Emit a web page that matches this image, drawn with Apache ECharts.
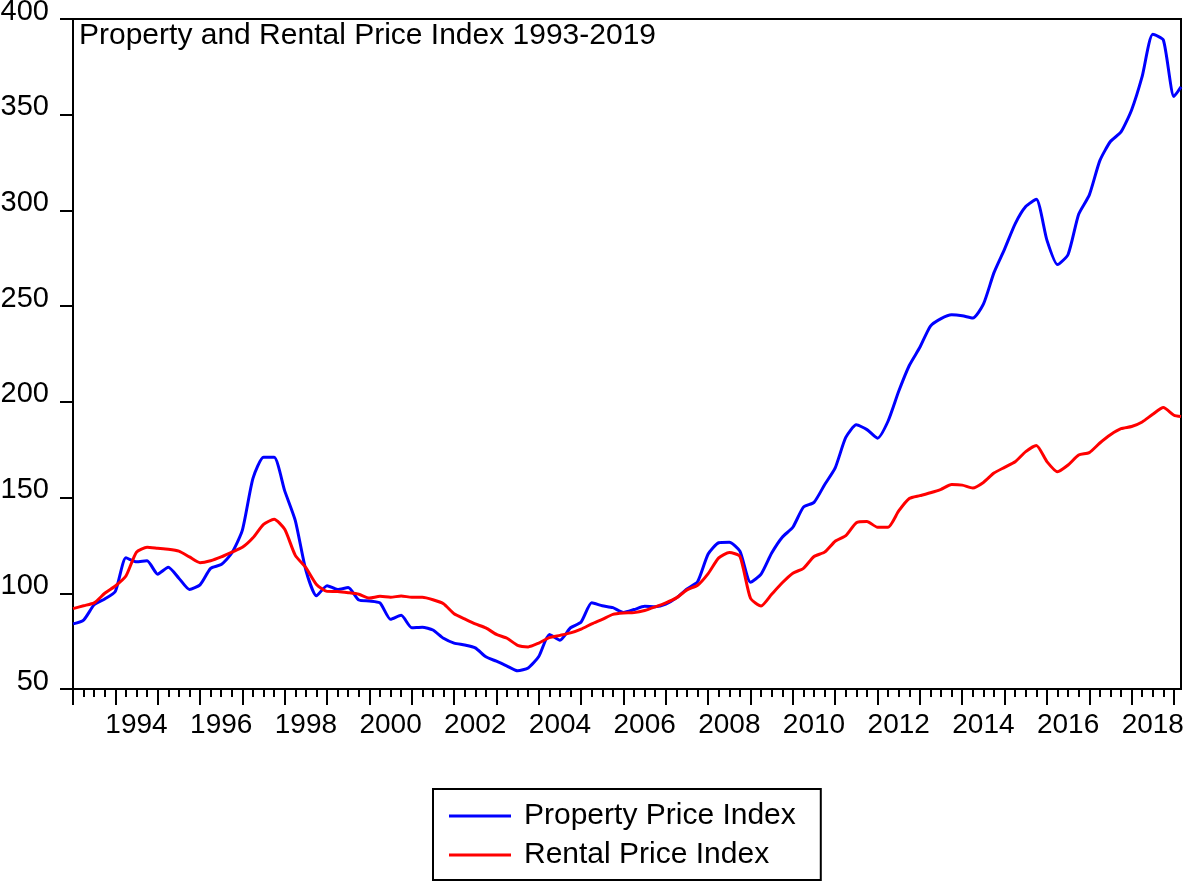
<!DOCTYPE html>
<html><head><meta charset="utf-8">
<script src="https://cdn.jsdelivr.net/npm/echarts@6/dist/echarts.min.js"></script>
<style>html,body{margin:0;padding:0;background:#fff}#c{width:1184px;height:882px}</style>
</head><body><div id="c"></div>
<script>
const titleText = 'Property and Rental Price Index 1993-2019';
const seriesNames = ['Property Price Index', 'Rental Price Index'];
const startYear = 1993;          // first observation (1993Q1)
const lastObs = 2019 + 2 / 12;   // last observation (2019M03)
const yMin = 50, yMax = 400, yStep = 50;
const labelYears = [1994, 1996, 1998, 2000, 2002, 2004, 2006, 2008, 2010, 2012, 2014, 2016, 2018];

// quarterly readings 1993Q1 .. 2019Q1, then the final observation
const propertyIndex = [
  84, 86, 94, 97, 101, 118.5, 116.5, 117, 110, 113.6,
  107.9, 102, 104.4, 113, 115, 121, 133, 160, 171, 171,
  153.5, 138, 112, 98.7, 104, 102, 103, 96.5, 96, 95,
  86.4, 88.5, 82, 82.3, 80.8, 76.5, 74, 73, 71.5, 66.8,
  64.5, 62, 59.5, 61, 67, 78.5, 75.5, 82, 85, 95,
  93.5, 92.5, 90, 91.5, 93.2, 93, 94.3, 97.6, 102.3, 106,
  120.5, 126.4, 126.7, 122, 105.8, 110, 121, 129.3, 134.5, 145,
  147.5, 156.7, 165.5, 181.4, 188, 185.5, 181, 190, 205.5, 219,
  228.5, 239.6, 243.5, 245.5, 245, 243.8, 251, 267.5, 279.8, 293,
  302, 305.8, 284.5, 271.7, 277, 298, 308, 326, 336, 341,
  352.5, 370, 392, 389, 359.5, 364.5
];
const rentalIndex = [
  92, 93.5, 95, 100, 103.8, 109, 121.5, 124, 123.5, 123,
  122, 119, 116, 117, 119, 121.5, 124, 129, 136, 138.7,
  133.4, 119.8, 113.4, 104.6, 101, 100.9, 100.3, 99.5, 97.5, 98.4,
  97.9, 98.6, 97.9, 97.9, 96.6, 94.5, 89.3, 86.6, 84, 81.9,
  78.5, 76.5, 72.8, 72, 74, 76.8, 78, 79.3, 81.3, 84,
  86.4, 89, 89.7, 89.9, 91, 92.9, 95, 97.6, 101.8, 104.2,
  110.3, 118.5, 121.3, 119.3, 97.4, 93.4, 99.5, 105.5, 110.5, 113,
  119.2, 121.5, 127.2, 130.1, 136.9, 137.5, 134.5, 134.5, 143, 149.5,
  151, 152.5, 154.3, 156.8, 156.5, 155, 157.9, 162.8, 165.8, 168.7,
  174, 177.2, 168.8, 163.5, 167, 172.2, 173.5, 178.5, 182.8, 186,
  187.1, 189.5, 193.5, 197, 193, 192.3
];

const dates = propertyIndex.map((_, i) => i < propertyIndex.length - 1 ? startYear + i / 4 : lastObs);
const yearTicks = [];
const quarterTicks = [];
for (let y = startYear; y <= 2019; y++) {
  yearTicks.push(y);
  if (y < 2019) quarterTicks.push(y + 0.25, y + 0.5, y + 0.75);
}

const FONT = 'Liberation Sans, Arial, sans-serif';
const chart = echarts.init(document.getElementById('c'), null, {renderer: 'canvas'});
const baseX = {
  type: 'value', min: startYear, max: lastObs, position: 'bottom', gridIndex: 0,
  splitLine: {show: false}, minorSplitLine: {show: false}
};
chart.setOption({
  animation: false,
  backgroundColor: '#fff',
  title: {
    text: titleText, left: 79, top: 21, padding: 0,
    textStyle: {fontSize: 30, fontWeight: 'normal', color: '#000', fontFamily: FONT}
  },
  grid: {
    left: 73, top: 19, width: 1108, height: 670, show: true, borderColor: '#000', borderWidth: 2,
    backgroundColor: 'transparent', containLabel: false, outerBoundsMode: 'none'
  },
  legend: {
    data: seriesNames, orient: 'vertical', left: 433, top: 789,
    icon: 'rect', itemWidth: 62, itemHeight: 3, itemGap: 9,
    padding: [12, 25, 10, 16], borderColor: '#000', borderWidth: 2,
    textStyle: {fontSize: 30, color: '#000', fontFamily: FONT, padding: [0, 0, 0, 8], lineHeight: 30}
  },
  xAxis: [
    Object.assign({}, baseX, {
      axisLine: {show: true, onZero: false, lineStyle: {color: '#000', width: 2}},
      axisTick: {show: true, customValues: yearTicks, length: 16, lineStyle: {color: '#000', width: 2}},
      axisLabel: {
        show: true, customValues: labelYears.map(y => y + 0.5),
        formatter: v => String(Math.floor(v)),
        fontSize: 28, color: '#000', fontFamily: FONT, margin: 22
      }
    }),
    Object.assign({}, baseX, {
      axisLine: {show: false, onZero: false},
      axisTick: {show: true, customValues: quarterTicks, length: 8, lineStyle: {color: '#000', width: 2}},
      axisLabel: {show: false}
    })
  ],
  yAxis: {
    type: 'value', min: yMin, max: yMax, interval: yStep,
    axisLine: {show: true, lineStyle: {color: '#000', width: 2}},
    axisTick: {show: true, length: 13, lineStyle: {color: '#000', width: 2}},
    axisLabel: {fontSize: 29, color: '#000', fontFamily: FONT, margin: 24, verticalAlign: 'bottom', lineHeight: 15},
    splitLine: {show: false}
  },
  series: [
    {
      name: seriesNames[0], type: 'line', xAxisIndex: 0, symbol: 'none', showSymbol: false,
      smooth: 0.2,
      data: dates.map((d, i) => [d, propertyIndex[i]]),
      lineStyle: {color: '#0000ff', width: 3}, itemStyle: {color: '#0000ff'}
    },
    {
      name: seriesNames[1], type: 'line', xAxisIndex: 0, symbol: 'none', showSymbol: false,
      smooth: 0.2,
      data: dates.map((d, i) => [d, rentalIndex[i]]),
      lineStyle: {color: '#ff0000', width: 3}, itemStyle: {color: '#ff0000'}
    }
  ]
});
</script>
</body></html>
